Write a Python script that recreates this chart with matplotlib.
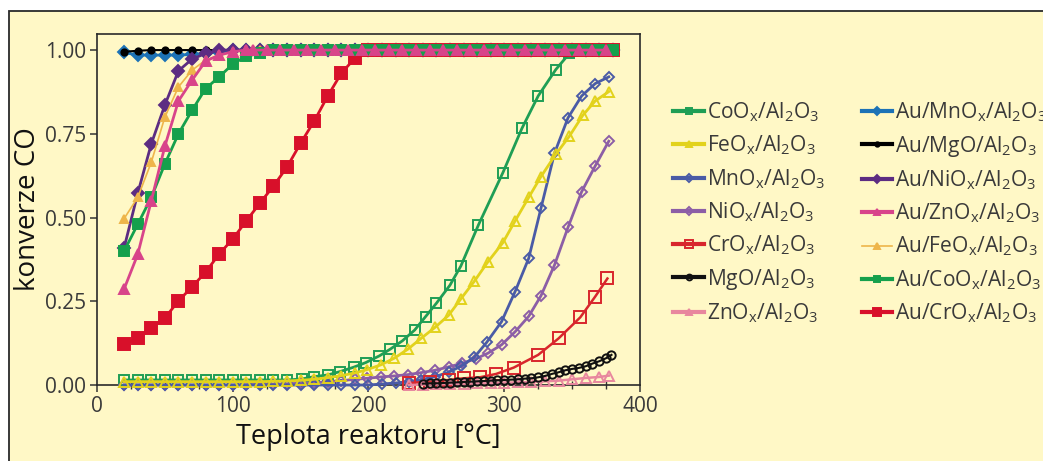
import matplotlib
matplotlib.use("Agg")
import matplotlib.pyplot as plt
from matplotlib.patches import Rectangle
from matplotlib.ticker import MultipleLocator

plt.rcParams['font.family'] = ['Open Sans', 'DejaVu Sans']
plt.rcParams['mathtext.default'] = 'regular'

PANEL = '#FFF8C6'
TEXT = '#3a3a3a'

# ---- data: temperature [°C] and CO conversion ----
T_coox = [20, 30, 40, 50, 60, 70, 80, 90, 100, 110, 120, 130, 140, 151, 160, 170, 179, 189, 198,
          208, 216, 225, 234, 242, 250, 260, 268, 281, 299, 313, 325, 338, 348, 358, 368, 378]
V_coox = [0.015, 0.015, 0.015, 0.015, 0.015, 0.015, 0.015, 0.015, 0.015, 0.015, 0.015, 0.015, 0.015,
          0.018, 0.025, 0.030, 0.040, 0.053, 0.067, 0.087, 0.107, 0.132, 0.164, 0.204, 0.244, 0.298,
          0.355, 0.478, 0.634, 0.766, 0.863, 0.942, 0.990, 1.0, 1.0, 1.0]

T_feox = [20, 30, 40, 50, 60, 70, 80, 90, 100, 110, 120, 130, 140, 150, 160, 170, 180, 190,
          199, 209, 219, 229, 239, 249, 259, 268, 278, 288, 299, 308, 318, 327, 338, 348, 358, 367, 377]
V_feox = [0.010, 0.010, 0.010, 0.010, 0.010, 0.010, 0.010, 0.010, 0.010, 0.010, 0.010, 0.011,
          0.012, 0.014, 0.017, 0.022, 0.028, 0.036, 0.046, 0.060, 0.080, 0.107, 0.140, 0.172,
          0.208, 0.257, 0.310, 0.368, 0.425, 0.490, 0.560, 0.622, 0.689, 0.743, 0.806, 0.848, 0.876]

T_mnox = [20, 30, 40, 50, 60, 70, 80, 90, 100, 110, 120, 130, 140, 150, 160, 170, 180, 190, 200,
          210, 220, 230, 239, 249, 259, 268, 278, 287, 298, 308, 318, 327, 337, 347, 357, 367, 377]
V_mnox = [0.0, 0.0, 0.0, 0.0, 0.0, 0.0, 0.0, 0.0, 0.0, 0.0, 0.0, 0.0, 0.0, 0.0, 0.0, 0.0, 0.0,
          0.0, 0.0, 0.003, 0.006, 0.010, 0.016, 0.025, 0.038, 0.056, 0.083, 0.127, 0.189, 0.279,
          0.378, 0.527, 0.692, 0.798, 0.863, 0.900, 0.920]

T_niox = [20, 30, 40, 50, 60, 70, 80, 90, 100, 110, 120, 130, 140, 150, 160, 170, 180, 190,
          199, 209, 219, 229, 239, 249, 259, 269, 279, 288, 298, 308, 318, 327, 337, 347, 357, 367, 377]
V_niox = [0.0, 0.0, 0.0, 0.0, 0.0, 0.0, 0.0, 0.0, 0.0, 0.001, 0.002, 0.003,
          0.004, 0.005, 0.007, 0.010, 0.013, 0.017, 0.020, 0.024, 0.027, 0.031, 0.037, 0.044,
          0.054, 0.065, 0.078, 0.095, 0.120, 0.159, 0.205, 0.266, 0.358, 0.471, 0.577, 0.654, 0.728]

T_crox = [230, 245, 259, 270, 282, 294, 307, 325, 340, 356, 367, 376]
V_crox = [0.006, 0.010, 0.015, 0.020, 0.023, 0.033, 0.052, 0.090, 0.139, 0.202, 0.264, 0.318]

T_mgo = [240, 245, 250, 255, 260, 265, 270, 275, 280, 285, 290, 295, 300, 305, 310,
         315, 320, 325, 330, 335, 340, 345, 350, 355, 360, 365, 370, 375, 379]
V_mgo = [0.004, 0.005, 0.005, 0.006, 0.007, 0.008, 0.009, 0.010, 0.011, 0.012, 0.013, 0.014,
         0.015, 0.016, 0.017, 0.019, 0.020, 0.023, 0.027, 0.033, 0.038, 0.044, 0.048, 0.051,
         0.056, 0.064, 0.071, 0.080, 0.090]

T_znox = [230, 240, 250, 260, 270, 280, 290, 300, 310, 320, 330, 340, 350, 360, 370, 377]
V_znox = [0.0, 0.001, 0.002, 0.003, 0.004, 0.005, 0.006, 0.007, 0.008, 0.009,
          0.011, 0.013, 0.017, 0.021, 0.024, 0.028]

T_au = [20, 30, 40, 50, 60, 70, 80, 90, 100, 110, 120, 130, 140, 150, 160, 170, 180, 190, 200,
        210, 220, 230, 240, 250, 260, 270, 280, 290, 300, 310, 320, 330, 340, 350, 360, 370, 380]
T_au_zn = [20, 30, 40, 50, 60, 70, 80, 90, 100, 110, 115, 125, 135, 145, 155, 165, 175, 185, 195,
           205, 215, 225, 235, 245, 255, 265, 275, 285, 295, 305, 315, 325, 335, 345, 355, 365, 375]

V_au_mnox = [0.993, 0.985, 0.985, 0.985, 0.985, 0.987, 0.990, 0.995, 1.0, 1.0, 1.0, 1.0, 1.0,
             1.0, 1.0, 1.0, 1.0, 1.0, 1.0, 1.0, 1.0, 1.0, 1.0, 1.0, 1.0, 1.0, 1.0, 1.0, 1.0,
             1.0, 1.0, 1.0, 1.0, 1.0, 1.0, 1.0, 1.0]
V_au_mgo = [0.995, 0.998, 1.0, 1.0, 1.0, 1.0, 1.0, 1.0, 1.0, 1.0, 1.0, 1.0, 1.0, 1.0, 1.0, 1.0,
            1.0, 1.0, 1.0, 1.0, 1.0, 1.0, 1.0, 1.0, 1.0, 1.0, 1.0, 1.0, 1.0, 1.0, 1.0, 1.0, 1.0,
            1.0, 1.0, 1.0, 1.0]
V_au_niox = [0.41, 0.572, 0.72, 0.836, 0.938, 0.973, 0.99, 1.0, 1.0, 1.0, 1.0, 1.0, 1.0, 1.0,
             1.0, 1.0, 1.0, 1.0, 1.0, 1.0, 1.0, 1.0, 1.0, 1.0, 1.0, 1.0, 1.0, 1.0, 1.0, 1.0, 1.0,
             1.0, 1.0, 1.0, 1.0, 1.0, 1.0]
V_au_znox = [0.287, 0.39, 0.55, 0.713, 0.848, 0.91, 0.967, 0.985, 0.995, 1.0, 1.0, 1.0, 1.0,
             1.0, 1.0, 1.0, 1.0, 1.0, 1.0, 1.0, 1.0, 1.0, 1.0, 1.0, 1.0, 1.0, 1.0, 1.0, 1.0, 1.0,
             1.0, 1.0, 1.0, 1.0, 1.0, 1.0, 1.0]
V_au_feox = [0.497, 0.56, 0.665, 0.80, 0.89, 0.94, 0.97, 0.985, 0.995, 1.0, 1.0, 1.0, 1.0, 1.0,
             1.0, 1.0, 1.0, 1.0, 1.0, 1.0, 1.0, 1.0, 1.0, 1.0, 1.0, 1.0, 1.0, 1.0, 1.0, 1.0, 1.0,
             1.0, 1.0, 1.0, 1.0, 1.0, 1.0]
V_au_coox = [0.40, 0.48, 0.56, 0.66, 0.75, 0.82, 0.885, 0.92, 0.958, 0.982, 0.99, 1.0, 1.0, 1.0,
             1.0, 1.0, 1.0, 1.0, 1.0, 1.0, 1.0, 1.0, 1.0, 1.0, 1.0, 1.0, 1.0, 1.0, 1.0, 1.0, 1.0,
             1.0, 1.0, 1.0, 1.0, 1.0, 1.0]
V_au_crox = [0.122, 0.14, 0.17, 0.20, 0.251, 0.293, 0.337, 0.391, 0.436, 0.49, 0.543, 0.594,
             0.651, 0.722, 0.788, 0.863, 0.931, 0.976, 1.0, 1.0, 1.0, 1.0, 1.0, 1.0, 1.0, 1.0,
             1.0, 1.0, 1.0, 1.0, 1.0, 1.0, 1.0, 1.0, 1.0, 1.0, 1.0]


def lab(s):
    return s.replace('Ox', r'O$_{x}$').replace('Al2O3', r'Al$_{2}$O$_{3}$')


# (label, T, values, colour, marker, size, filled, linewidth, zorder)
series = [
    ('CoOx/Al2O3', T_coox, V_coox, '#1f9e55', 's', 7, False, 2.0, 3),
    ('FeOx/Al2O3', T_feox, V_feox, '#e2d21c', '^', 7, False, 2.0, 3.2),
    ('MnOx/Al2O3', T_mnox, V_mnox, '#4a5ba6', 'D', 5.5, False, 2.0, 3.1),
    ('NiOx/Al2O3', T_niox, V_niox, '#8c5ea6', 'D', 5.5, False, 2.0, 3.05),
    ('CrOx/Al2O3', T_crox, V_crox, '#d8262c', 's', 8, False, 1.8, 3.3),
    ('MgO/Al2O3', T_mgo, V_mgo, '#111111', 'o', 6, False, 1.5, 3.4),
    ('ZnOx/Al2O3', T_znox, V_znox, '#e8879e', '^', 7, False, 1.8, 3.35),
    ('Au/MnOx/Al2O3', T_au, V_au_mnox, '#1c72b6', 'D', 6, True, 2.0, 4),
    ('Au/MgO/Al2O3', T_au, V_au_mgo, '#000000', 'o', 4.5, True, 1.5, 4.1),
    ('Au/NiOx/Al2O3', T_au, V_au_niox, '#5c2c82', 'D', 6, True, 2.0, 4.2),
    ('Au/ZnOx/Al2O3', T_au_zn, V_au_znox, '#d8448a', '^', 7, True, 2.0, 4.6),
    ('Au/FeOx/Al2O3', T_au, V_au_feox, '#eeb54a', '^', 6, True, 1.2, 4.3),
    ('Au/CoOx/Al2O3', T_au, V_au_coox, '#15a04c', 's', 7, True, 2.0, 4.5),
    ('Au/CrOx/Al2O3', T_au, V_au_crox, '#d8102a', 's', 8, True, 2.0, 4.25),
]

fig = plt.figure(figsize=(10.43, 4.61), dpi=100, facecolor='white')
panel = Rectangle((9 / 1043, -0.2), 1.2, 1.2 - 11 / 461, transform=fig.transFigure,
                  facecolor=PANEL, edgecolor='#2a2a2a', linewidth=1.3, zorder=-10)
fig.patches.append(panel)

ax = fig.add_axes([97 / 1043, 1 - 385 / 461, (640 - 97) / 1043, (385 - 34) / 461])
ax.set_facecolor(PANEL)

handles = []
for name, t, v, col, mk, ms, filled, lw, z in series:
    h, = ax.plot(t, v, color=col, marker=mk, markersize=ms, linewidth=lw,
                 markerfacecolor=col if filled else 'none', markeredgecolor=col,
                 markeredgewidth=1.4, zorder=z, clip_on=False, label=lab(name))
    handles.append(h)

ax.set_xlim(0, 400)
ax.set_ylim(0, 1.048)
ax.set_xticks([0, 100, 200, 300, 400])
ax.xaxis.set_minor_locator(MultipleLocator(25))
ax.set_yticks([0, 0.25, 0.5, 0.75, 1.0])
ax.set_yticklabels(['0.00', '0.25', '0.50', '0.75', '1.00'])
ax.tick_params(axis='both', which='major', direction='out', length=5, width=1.1,
               color='#333333', labelsize=15, labelcolor=TEXT, pad=3)
ax.tick_params(axis='x', which='minor', direction='inout', length=6, width=1.0, color='#333333')
for sp in ax.spines.values():
    sp.set_color('#2a2a2a')
    sp.set_linewidth(1.2)

ax.set_xlabel('Teplota reaktoru [°C]', fontsize=19.5, color='#111111', labelpad=4)
ax.set_ylabel('konverze CO', fontsize=20, color='#111111', labelpad=2)

leg = fig.legend(handles=handles, ncol=2, loc='upper left',
                 bbox_to_anchor=(663 / 1043, 1 - 90 / 461), frameon=False,
                 fontsize=15.1, handlelength=1.45, handletextpad=0.15,
                 columnspacing=1.75, labelspacing=0.46, borderpad=0, markerscale=0.7)
for t in leg.get_texts():
    t.set_color(TEXT)
for lh in leg.legend_handles:
    lh.set_linewidth(max(lh.get_linewidth(), 3.0) if lh.get_label() != lab('Au/FeOx/Al2O3') else 1.2)

fig.savefig('out.png', dpi=100, facecolor='white')
